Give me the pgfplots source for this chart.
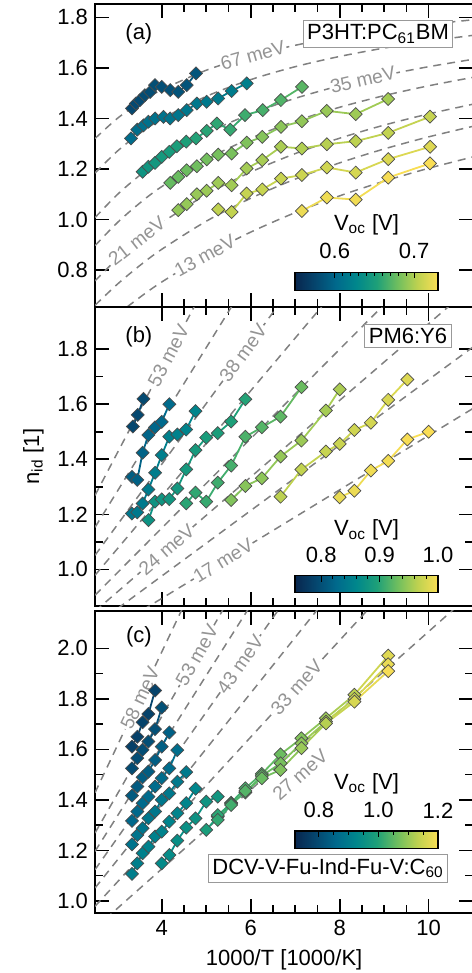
\documentclass[border=0pt]{standalone}
\usepackage{pgfplots}
\usepackage{pgfplotstable}
\pgfplotsset{compat=1.18}
\usepackage{fontspec}
\setmainfont{Liberation Sans}
\newcommand\fs{\fontsize{11}{13}\selectfont}
\newcommand\fl{\fontsize{9.6}{11}\selectfont}

\tikzset{
  lab/.style={font=\fl, text=black!42, fill=white, inner sep=0.6pt},
  box/.style={draw=black!40, line width=0.5pt, fill=white, font=\fs, inner sep=2pt},
}
\pgfplotsset{
  colormap={vo}{rgb255=(8,38,78) rgb255=(5,70,110) rgb255=(0,105,140) rgb255=(0,135,140)
    rgb255=(30,160,120) rgb255=(110,190,95) rgb255=(190,210,80) rgb255=(250,222,85)},
  panel/.style={
    scale only axis, width=189.1pt,
    xmin=2.5, xmax=11,
    colormap name=vo,
    axis line style={line width=1pt},
    tick align=inside,
    major tick length=7pt, minor tick length=4pt,
    tick style={black, line width=0.8pt},
    xtick={4,6,8,10}, minor x tick num=3,
    ticklabel style={font=\fs},
    label style={font=\fs},
    /pgf/number format/assume math mode=true,
    yticklabel style={/pgf/number format/.cd, fixed, fixed zerofill, precision=1},
  },
  cbcommon/.style={
    at={(parent axis.south west)}, anchor=south west, xshift=100pt,
    scale only axis, width=71.5pt,
    xtick pos=right, xticklabel pos=right,
    tick align=inside,
    major tick length=3pt, minor tick length=1.8pt,
    tick style={black, line width=0.5pt},
    axis line style={line width=0.6pt},
    ticklabel style={font=\fs},
    /pgf/number format/assume math mode=true,
    xticklabel style={yshift=3pt, /pgf/number format/.cd, fixed, fixed zerofill, precision=1},
  },
  refl/.style={black!50, line width=0.75pt, dash pattern=on 4pt off 3pt, forget plot},
  dia/.style={only marks, scatter, point meta=explicit, mark=square*, mark size=2.3pt,
    mark options={rotate=45, line width=0.35pt},
    scatter/use mapped color={draw=black!70, fill=mapped color}},
  seg/.style={mesh, point meta=explicit, line width=0.9pt, forget plot},
}
\newcommand\series[1]{%
  \addplot[seg] table[meta=c] {#1};
  \addplot[dia] table[meta=c] {#1};}

% ---------- panel (a) P3HT:PC61BM ----------
\pgfplotstableread{
x y c
3.33 1.440 0.577
3.42 1.459 0.578
3.51 1.472 0.579
3.62 1.492 0.580
3.74 1.505 0.581
3.85 1.532 0.582
4.00 1.525 0.583
4.19 1.512 0.584
4.37 1.505 0.585
4.56 1.532 0.586
4.77 1.578 0.587
}\aA
\pgfplotstableread{
x y c
3.31 1.321 0.605
3.45 1.356 0.606
3.59 1.373 0.607
3.70 1.387 0.608
3.85 1.400 0.609
4.04 1.406 0.610
4.19 1.400 0.611
4.37 1.413 0.612
4.56 1.433 0.613
4.79 1.459 0.614
5.01 1.466 0.615
5.27 1.479 0.616
5.57 1.509 0.618
5.91 1.539 0.620
}\aB
\pgfplotstableread{
x y c
3.57 1.189 0.640
3.70 1.209 0.642
3.85 1.224 0.644
4.00 1.248 0.646
4.17 1.268 0.648
4.34 1.290 0.650
4.55 1.308 0.652
4.77 1.321 0.654
5.01 1.351 0.656
5.24 1.380 0.658
5.54 1.356 0.660
5.87 1.413 0.663
6.27 1.433 0.666
6.68 1.473 0.669
7.15 1.525 0.672
}\aC
\pgfplotstableread{
x y c
4.19 1.145 0.676
4.37 1.169 0.677
4.56 1.195 0.678
4.79 1.211 0.679
5.01 1.238 0.680
5.27 1.257 0.681
5.57 1.261 0.682
5.91 1.304 0.684
6.26 1.327 0.686
6.68 1.367 0.688
7.15 1.389 0.690
7.71 1.430 0.692
8.36 1.417 0.694
9.09 1.477 0.696
}\aD
\pgfplotstableread{
x y c
4.37 1.037 0.690
4.56 1.061 0.691
4.79 1.100 0.692
5.01 1.114 0.693
5.27 1.145 0.694
5.57 1.136 0.695
5.91 1.202 0.696
6.26 1.235 0.697
6.68 1.288 0.698
7.15 1.281 0.700
7.71 1.298 0.702
8.36 1.310 0.704
9.09 1.343 0.706
10.03 1.407 0.708
}\aE
\pgfplotstableread{
x y c
5.27 1.040 0.705
5.57 1.030 0.706
5.91 1.103 0.707
6.26 1.119 0.708
6.68 1.162 0.709
7.15 1.176 0.710
7.71 1.206 0.712
8.36 1.186 0.714
9.09 1.239 0.716
10.03 1.288 0.718
}\aF
\pgfplotstableread{
x y c
7.15 1.034 0.724
7.71 1.087 0.725
8.36 1.079 0.726
9.09 1.166 0.728
10.03 1.222 0.730
}\aG

% ---------- panel (b) PM6:Y6 ----------
\pgfplotstableread{
x y c
3.35 1.519 0.790
3.46 1.561 0.792
3.59 1.619 0.794
}\bA
\pgfplotstableread{
x y c
3.33 1.336 0.815
3.45 1.325 0.817
3.57 1.424 0.819
3.70 1.488 0.821
3.85 1.516 0.823
4.00 1.536 0.825
4.17 1.600 0.827
}\bB
\pgfplotstableread{
x y c
3.33 1.203 0.840
3.45 1.207 0.842
3.57 1.239 0.844
3.70 1.290 0.846
3.85 1.351 0.848
4.00 1.415 0.850
4.17 1.482 0.852
4.35 1.490 0.854
4.55 1.508 0.856
4.76 1.575 0.858
}\bC
\pgfplotstableread{
x y c
3.70 1.179 0.875
3.85 1.246 0.877
4.00 1.254 0.879
4.17 1.255 0.881
4.35 1.294 0.883
4.55 1.363 0.885
4.76 1.433 0.887
5.00 1.479 0.889
5.26 1.495 0.891
5.56 1.537 0.894
5.88 1.618 0.897
}\bD
\pgfplotstableread{
x y c
4.55 1.240 0.900
4.76 1.279 0.903
5.00 1.246 0.906
5.26 1.315 0.909
5.56 1.377 0.912
5.88 1.482 0.915
6.25 1.516 0.919
6.67 1.555 0.923
7.14 1.662 0.928
}\bE
\pgfplotstableread{
x y c
5.56 1.252 0.938
5.88 1.303 0.941
6.25 1.331 0.944
6.67 1.410 0.947
7.14 1.468 0.950
7.69 1.577 0.954
8.00 1.654 0.957
}\bF
\pgfplotstableread{
x y c
6.67 1.264 0.964
7.14 1.363 0.967
7.69 1.428 0.970
8.00 1.456 0.972
8.33 1.506 0.975
8.70 1.533 0.977
9.09 1.616 0.980
9.52 1.690 0.983
}\bG
\pgfplotstableread{
x y c
8.00 1.262 0.990
8.33 1.286 0.992
8.70 1.359 0.994
9.09 1.394 0.996
9.52 1.472 0.998
10.00 1.500 1.000
}\bH

% ---------- panel (c) DCV-V-Fu-Ind-Fu-V:C60 ----------
\pgfplotstableread{
x y c
3.33 1.611 0.775
3.45 1.650 0.777
3.57 1.707 0.779
3.70 1.740 0.781
3.85 1.833 0.783
}\cA
\pgfplotstableread{
x y c
3.33 1.525 0.800
3.45 1.565 0.802
3.57 1.598 0.804
3.70 1.631 0.806
3.85 1.680 0.808
4.00 1.765 0.810
}\cB
\pgfplotstableread{
x y c
3.33 1.417 0.828
3.45 1.453 0.830
3.57 1.490 0.832
3.70 1.512 0.834
3.85 1.558 0.836
4.00 1.611 0.838
4.17 1.667 0.840
}\cC
\pgfplotstableread{
x y c
3.33 1.317 0.855
3.45 1.354 0.857
3.57 1.387 0.859
3.70 1.413 0.861
3.85 1.453 0.863
4.00 1.486 0.865
4.17 1.525 0.867
4.35 1.597 0.869
}\cD
\pgfplotstableread{
x y c
3.33 1.224 0.880
3.45 1.261 0.882
3.57 1.288 0.884
3.70 1.327 0.886
3.85 1.354 0.888
4.00 1.400 0.890
4.17 1.426 0.892
4.35 1.472 0.894
4.55 1.510 0.896
}\cE
\pgfplotstableread{
x y c
3.33 1.107 0.905
3.45 1.149 0.907
3.57 1.189 0.909
3.70 1.215 0.911
3.85 1.255 0.913
4.00 1.274 0.915
4.17 1.314 0.917
4.35 1.347 0.919
4.55 1.387 0.921
4.76 1.444 0.923
}\cF
\pgfplotstableread{
x y c
4.00 1.149 0.935
4.17 1.182 0.940
4.35 1.239 0.945
4.55 1.290 0.950
4.76 1.327 0.955
5.00 1.393 0.960
5.26 1.413 0.965
}\cG
\pgfplotstableread{
x y c
5.00 1.281 0.985
5.26 1.334 1.000
5.56 1.389 1.015
5.88 1.446 1.030
6.25 1.503 1.045
6.67 1.580 1.060
7.14 1.644 1.080
7.69 1.723 1.100
8.33 1.816 1.130
9.09 1.971 1.170
}\cH
\pgfplotstableread{
x y c
5.26 1.340 1.005
5.56 1.385 1.020
5.88 1.429 1.035
6.25 1.495 1.050
6.67 1.545 1.070
7.14 1.624 1.090
7.69 1.710 1.115
8.33 1.800 1.145
9.09 1.937 1.180
}\cI
\pgfplotstableread{
x y c
5.26 1.321 1.010
5.56 1.380 1.025
5.88 1.435 1.040
6.25 1.486 1.058
6.67 1.519 1.078
7.14 1.605 1.100
7.69 1.703 1.125
8.33 1.789 1.160
9.09 1.910 1.195
}\cJ

\begin{document}
\begin{tikzpicture}
\useasboundingbox (0,0) rectangle (235.5pt,-486.5pt);

% ===== (a) =====
\begin{axis}[panel, at={(47.5pt,-2pt)}, anchor=north west, height=151.35pt,
  ymin=0.655, ymax=1.853, ytick={0.8,1.0,1.2,1.4,1.6,1.8}, xticklabels={},
  colorbar horizontal, point meta min=0.55, point meta max=0.73,
  colorbar style={cbcommon, yshift=16.8pt, height=9pt, xtick={0.6,0.7}, minor x tick num=9}]
% reference curves
\addplot[refl, smooth] coordinates {(2.5,1.3206) (3,1.3999) (3.5,1.4626) (4,1.5134) (5,1.5908) (6,1.6470) (7,1.6896) (8,1.7230) (9,1.7499) (10,1.7721) (11,1.7906)};
\addplot[refl, smooth] coordinates {(2.5,1.1839) (3,1.2703) (3.5,1.3401) (4,1.3978) (5,1.4873) (6,1.5537) (7,1.6049) (8,1.6455) (9,1.6786) (10,1.7060) (11,1.7291)};
\addplot[refl, smooth] coordinates {(2.5,1.0077) (3,1.0985) (3.5,1.1741) (4,1.2380) (5,1.3401) (6,1.4181) (7,1.4796) (8,1.5294) (9,1.5704) (10,1.6049) (11,1.6342)};
\addplot[refl, smooth] coordinates {(2.5,0.8965) (3,0.9873) (3.5,1.0642) (4,1.1303) (5,1.2380) (6,1.3219) (7,1.3892) (8,1.4444) (9,1.4904) (10,1.5293) (11,1.5628)};
\addplot[refl, smooth] coordinates {(2.5,0.7572) (3,0.8447) (3.5,0.9207) (4,0.9872) (5,1.0985) (6,1.1877) (7,1.2609) (8,1.3220) (9,1.3737) (10,1.4181) (11,1.4566)};
\addplot[refl, smooth] coordinates {(2.5,0.6606) (3,0.7436) (3.5,0.8169) (4,0.8821) (5,0.9932) (6,1.0841) (7,1.1600) (8,1.2243) (9,1.2794) (10,1.3272) (11,1.3691)};
\addplot[refl, smooth] coordinates {(2.5,0.5477) (3,0.6232) (3.5,0.6911) (4,0.7527) (5,0.8600) (6,0.9502) (7,1.0273) (8,1.0938) (9,1.1518) (10,1.2028) (11,1.2480)};
\node[lab, rotate=16] at (axis cs:6.05,1.650) {67 meV};
\node[lab, rotate=13] at (axis cs:8.52,1.552) {35 meV};
\node[lab, rotate=38] at (axis cs:3.44,0.915) {21 meV};
\node[lab, rotate=29] at (axis cs:4.97,0.856) {13 meV};
\series{\aA}\series{\aB}\series{\aC}\series{\aD}\series{\aE}\series{\aF}\series{\aG}
\node[font=\fs] at (rel axis cs:0.116,0.90) {(a)};
\node[box, anchor=east] at (rel axis cs:0.9475,0.9015) {P3HT:PC\textsubscript{61}BM};
\node[font=\fs] at (rel axis cs:0.718,0.27) {V\textsubscript{oc} [V]};
\end{axis}

% ===== (b) =====
\begin{axis}[panel, at={(47.5pt,-153.65pt)}, anchor=north west, height=149.35pt,
  ymin=0.867, ymax=1.952, ytick={1.0,1.2,1.4,1.6,1.8}, minor y tick num=1, xticklabels={},
  ylabel={n\textsubscript{id} [1]},
  colorbar horizontal, point meta min=0.755, point meta max=1.0,
  colorbar style={cbcommon, yshift=15.3pt, height=8.3pt, xtick={0.8,0.9,1.0}, minor x tick num=4}]
\addplot[refl] coordinates {(2.5,1.2688) (11,3.8828)};
\addplot[refl] coordinates {(2.5,1.1528) (11,3.3722)};
\addplot[refl] coordinates {(2.5,1.0512) (11,2.9254)};
\addplot[refl] coordinates {(2.5,0.9787) (11,2.6063)};
\addplot[refl] coordinates {(2.5,0.9062) (11,2.2871)};
\addplot[refl] coordinates {(2.5,0.8481) (11,2.0318)};
\addplot[refl] coordinates {(2.5,0.7974) (11,1.8084)};
\addplot[refl] coordinates {(2.5,0.7466) (11,1.5850)};
\node[lab, rotate=62] at (axis cs:4.15,1.776) {53 meV};
\node[lab, rotate=53.7] at (axis cs:5.83,1.786) {38 meV};
\node[lab, rotate=40.7] at (axis cs:4.11,1.072) {24 meV};
\node[lab, rotate=31.4] at (axis cs:5.38,1.031) {17 meV};
\series{\bA}\series{\bB}\series{\bC}\series{\bD}\series{\bE}\series{\bF}\series{\bG}\series{\bH}
\node[font=\fs] at (rel axis cs:0.116,0.90) {(b)};
\node[box, anchor=east] at (rel axis cs:0.943,0.9046) {PM6:Y6};
\node[font=\fs] at (rel axis cs:0.718,0.254) {V\textsubscript{oc} [V]};
\end{axis}

% ===== (c) =====
\begin{axis}[panel, at={(47.5pt,-305.35pt)}, anchor=north west, height=151.3pt,
  ymin=0.951, ymax=2.149, ytick={1.0,1.2,1.4,1.6,1.8,2.0}, minor y tick num=1,
  xlabel={1000/T [1000/K]},
  colorbar horizontal, point meta min=0.72, point meta max=1.2,
  colorbar style={cbcommon, yshift=41pt, height=8.65pt, xtick={0.8,1.0,1.2}, minor x tick num=3}]
\addplot[refl] coordinates {(2.5,1.4284) (11,4.5850)};
\addplot[refl] coordinates {(2.5,1.2688) (11,3.8828)};
\addplot[refl] coordinates {(2.5,1.1963) (11,3.5637)};
\addplot[refl] coordinates {(2.5,1.1238) (11,3.2445)};
\addplot[refl] coordinates {(2.5,1.0512) (11,2.9254)};
\addplot[refl] coordinates {(2.5,0.9787) (11,2.6063)};
\addplot[refl] coordinates {(2.5,0.8917) (11,2.2233)};
\node[lab, rotate=64.6] at (axis cs:3.51,1.803) {58 meV};
\node[lab, rotate=60.3] at (axis cs:4.79,1.973) {53 meV};
\node[lab, rotate=54.8] at (axis cs:5.76,1.937) {43 meV};
\node[lab, rotate=47.4] at (axis cs:7.03,1.846) {33 meV};
\node[lab, rotate=41.6] at (axis cs:7.11,1.499) {27 meV};
\series{\cA}\series{\cB}\series{\cC}\series{\cD}\series{\cE}\series{\cF}\series{\cG}\series{\cH}\series{\cI}\series{\cJ}
\node[font=\fs] at (rel axis cs:0.116,0.914) {(c)};
\node[box, anchor=east] at (rel axis cs:0.934,0.1487) {DCV-V-Fu-Ind-Fu-V:C\textsubscript{60}};
\node[font=\fs] at (rel axis cs:0.718,0.429) {V\textsubscript{oc} [V]};
\end{axis}
\end{tikzpicture}
\end{document}
